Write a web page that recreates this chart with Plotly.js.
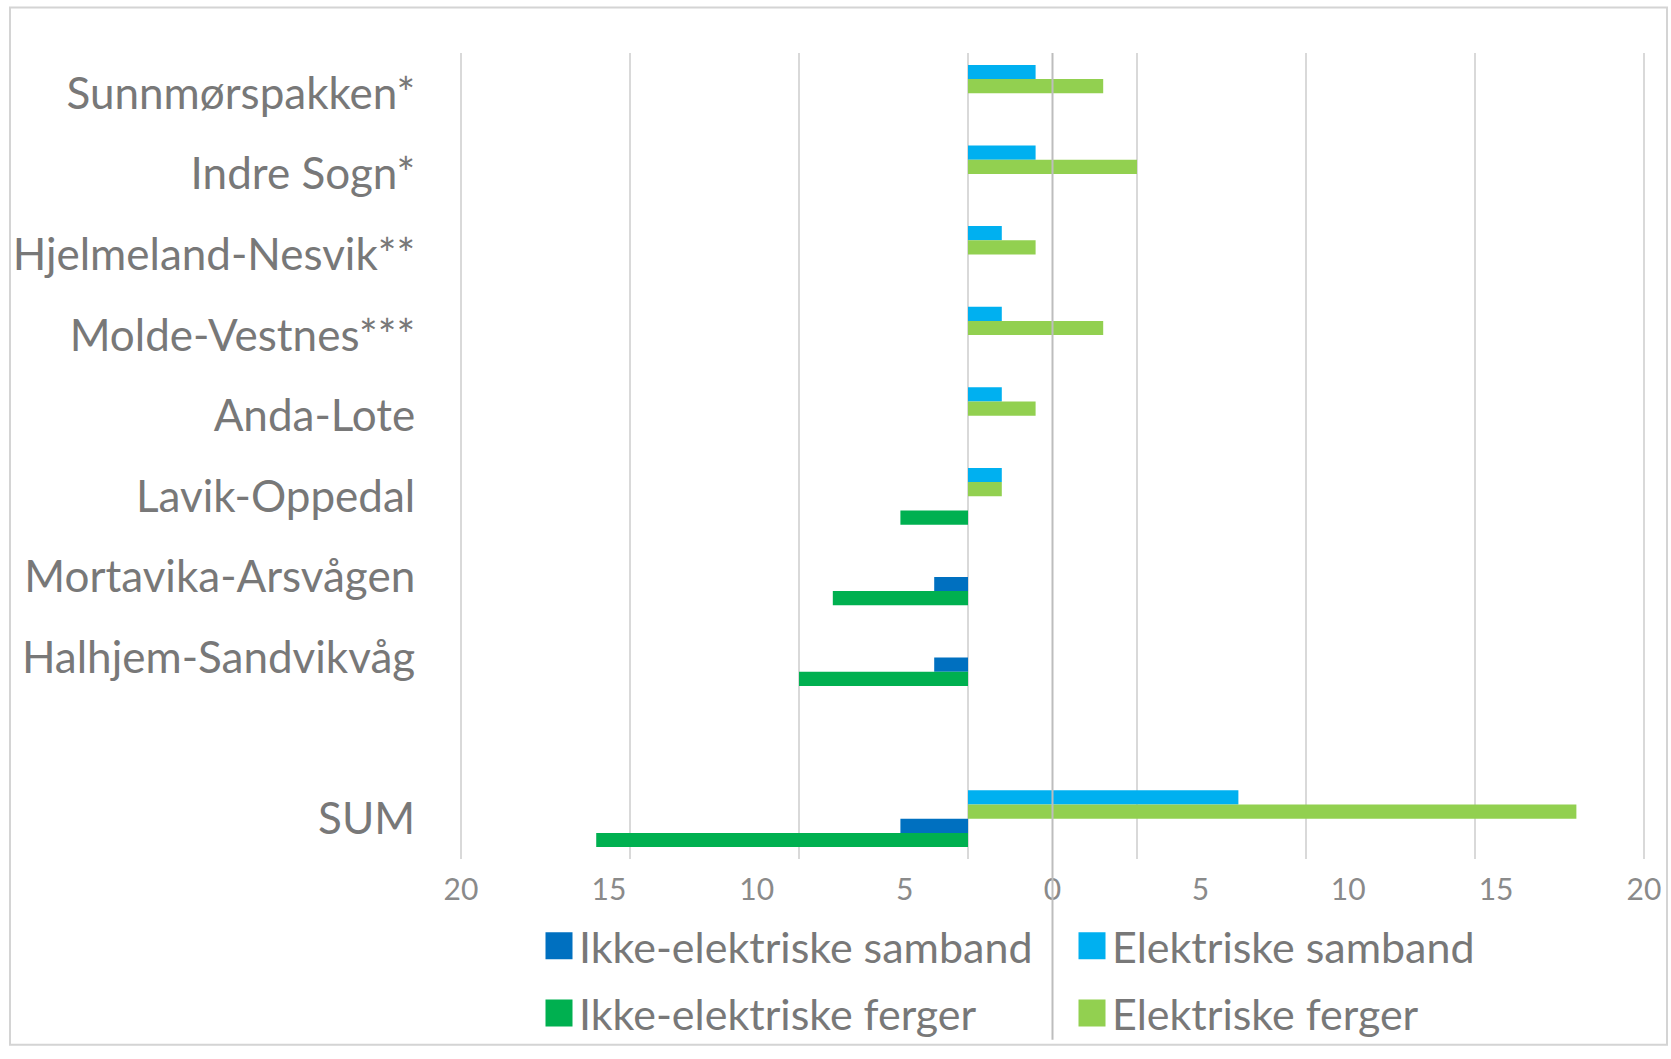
<!DOCTYPE html>
<html>
<head>
<meta charset="utf-8">
<script src="https://cdn.plot.ly/plotly-3.0.1.min.js"></script>
<style>
html, body { margin: 0; padding: 0; background: #ffffff; }
#chart { width: 1671px; height: 1059px; }
</style>
</head>
<body>
<div id="chart"></div>
<script>
// ---- data ----
const categories = ['Sunnmørspakken*', 'Indre Sogn*', 'Hjelmeland-Nesvik**', 'Molde-Vestnes***', 'Anda-Lote', 'Lavik-Oppedal', 'Mortavika-Arsvågen', 'Halhjem-Sandvikvåg', 'SUM'];
const gapCategory = ' ';
const elektriskeSamband = [2, 2, 1, 1, 1, 1, 0, 0, 8];
const elektriskeFerger = [4, 5, 2, 4, 2, 1, 0, 0, 18];
const ikkeElektriskeSamband = [0, 0, 0, 0, 0, 0, -1, -1, -2];
const ikkeElektriskeFerger = [0, 0, 0, 0, 0, -2, -4, -5, -11];
const xTickText = ['20', '15', '10', '5', '0', '5', '10', '15', '20'];

// ---- layout helpers ----
const W = 1671, H = 1059;
const M = { l: 459, r: 25, t: 53, b: 190 };
const pw = W - M.l - M.r, ph = H - M.t - M.b;
const px = p => (p - M.l) / pw;
const py = p => (H - M.b - p) / ph;
const gridEnds = [-15, 20];
const pad = 0.06;
const xRange = [gridEnds[0] - pad, gridEnds[1] + pad];
const xTickVals = xTickText.map((_, i) => gridEnds[0] + i * (gridEnds[1] - gridEnds[0]) / (xTickText.length - 1));
const zeroLabelPos = xTickVals[xTickText.indexOf('0')];
const categoryOrder = categories.slice(0, categories.length - 1).concat([gapCategory, categories[categories.length - 1]]);

function barTrace(name, values, color, legendId, rank) {
  return {
    type: 'bar',
    orientation: 'h',
    name: name,
    y: categories,
    x: values,
    marker: { color: color, line: { width: 0 } },
    legend: legendId,
    legendrank: rank,
    hoverinfo: 'skip'
  };
}

const traces = [
  barTrace('Elektriske samband', elektriskeSamband, '#00B0F0', 'legend', 2),
  barTrace('Elektriske ferger', elektriskeFerger, '#92D050', 'legend2', 4),
  barTrace('Ikke-elektriske samband', ikkeElektriskeSamband, '#0070C0', 'legend', 1),
  barTrace('Ikke-elektriske ferger', ikkeElektriskeFerger, '#00B050', 'legend2', 3),
  // carrier for the tick-label axis (no marks)
  { type: 'scatter', mode: 'markers', x: [], y: [], xaxis: 'x2', yaxis: 'y', showlegend: false, hoverinfo: 'skip' }
];

const textColor = '#787878';
const legendCommon = {
  orientation: 'h',
  xanchor: 'left',
  yanchor: 'middle',
  x: px(539),
  font: { family: 'Lato, sans-serif', size: 43, color: textColor },
  entrywidth: 488,
  bgcolor: 'rgba(0,0,0,0)',
  traceorder: 'normal'
};

const layout = {
  width: W,
  height: H,
  margin: M,
  paper_bgcolor: '#ffffff',
  plot_bgcolor: '#ffffff',
  font: { family: 'Lato, sans-serif', color: textColor },
  barmode: 'group',
  bargap: 0.295,
  bargroupgap: 0,
  showlegend: true,
  xaxis: {
    range: xRange,
    tick0: 0,
    dtick: 5,
    showgrid: true,
    gridcolor: '#d9d9d9',
    gridwidth: 1.5,
    zeroline: false,
    showline: false,
    showticklabels: false,
    ticks: '',
    fixedrange: true
  },
  xaxis2: {
    overlaying: 'x',
    anchor: 'y',
    side: 'bottom',
    range: xRange,
    tickmode: 'array',
    tickvals: xTickVals,
    ticktext: xTickText,
    showgrid: false,
    zeroline: false,
    showline: false,
    ticks: 'outside',
    ticklen: 4,
    tickcolor: 'rgba(0,0,0,0)',
    tickfont: { family: 'Lato, sans-serif', size: 30, color: '#8a8a8a' },
    fixedrange: true
  },
  yaxis: {
    type: 'category',
    categoryorder: 'array',
    categoryarray: categoryOrder,
    autorange: 'reversed',
    range: [categoryOrder.length - 0.5, -0.5],
    showgrid: false,
    zeroline: false,
    showline: false,
    ticks: 'outside',
    ticklen: 34,
    tickcolor: 'rgba(0,0,0,0)',
    tickfont: { family: 'Lato, sans-serif', size: 44, color: textColor },
    fixedrange: true
  },
  legend: Object.assign({}, legendCommon, { y: py(957) }),
  legend2: Object.assign({}, legendCommon, { y: py(1025) }),
  shapes: [
    {
      type: 'line', xref: 'x', yref: 'paper',
      x0: zeroLabelPos, x1: zeroLabelPos, y0: py(1052), y1: 1,
      line: { color: '#bdbdbd', width: 2 }, layer: 'above'
    },
    {
      type: 'rect', xref: 'paper', yref: 'paper',
      x0: px(10), x1: px(1667), y0: py(1057), y1: py(7),
      line: { color: '#d4d4d4', width: 2 }, fillcolor: 'rgba(0,0,0,0)', layer: 'below'
    }
  ]
};

Plotly.newPlot('chart', traces, layout, { staticPlot: true, displayModeBar: false }).then(gd => {
  // enlarge the legend colour swatches to match the reference's larger squares
  gd.querySelectorAll('.legendpoints path').forEach(p => {
    const t = p.getAttribute('transform') || '';
    p.setAttribute('transform', t + ' scale(2.25)');
  });
});
</script>
</body>
</html>
